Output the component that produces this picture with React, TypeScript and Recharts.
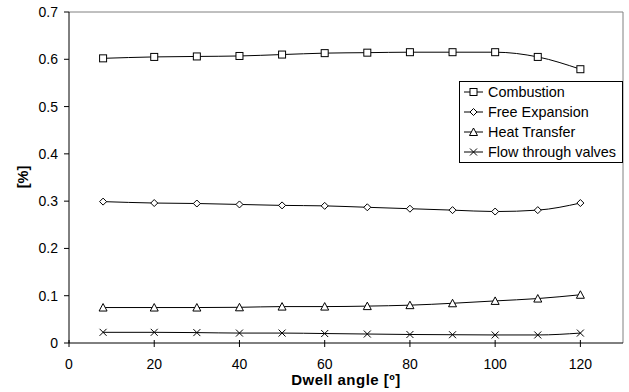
import React from "react";
import {
  LineChart,
  Line,
  XAxis,
  YAxis,
  Legend,
  ReferenceLine,
  Label,
} from "recharts";

const dwellAngles = [8, 20, 30, 40, 50, 60, 70, 80, 90, 100, 110, 120];
const combustion = [0.602, 0.605, 0.606, 0.607, 0.61, 0.613, 0.614, 0.615, 0.615, 0.615, 0.605, 0.579];
const freeExpansion = [0.299, 0.296, 0.295, 0.293, 0.291, 0.29, 0.287, 0.284, 0.281, 0.278, 0.281, 0.296];
const heatTransfer = [0.075, 0.075, 0.075, 0.0755, 0.077, 0.077, 0.078, 0.08, 0.084, 0.089, 0.094, 0.102];
const flowThroughValves = [0.0226, 0.0226, 0.022, 0.021, 0.021, 0.02, 0.019, 0.018, 0.0175, 0.017, 0.017, 0.021];
const xTicks = [0, 20, 40, 60, 80, 100, 120];
const yTicks = [0, 0.1, 0.2, 0.3, 0.4, 0.5, 0.6, 0.7];

const data = dwellAngles.map((angle, i) => ({
  angle,
  combustion: combustion[i],
  freeExpansion: freeExpansion[i],
  heatTransfer: heatTransfer[i],
  flow: flowThroughValves[i],
}));

const FONT = "'Liberation Sans', Arial, sans-serif";

type Marker = "square" | "diamond" | "triangle" | "cross";

const MarkerShape = ({ cx, cy, kind }: { cx: number; cy: number; kind: Marker }) => {
  const s = 3.5;
  if (kind === "square")
    return <rect x={cx - s} y={cy - s} width={s * 2} height={s * 2} fill="#fff" stroke="#000" strokeWidth={1} />;
  if (kind === "diamond")
    return (
      <polygon
        points={`${cx},${cy - s} ${cx + s},${cy} ${cx},${cy + s} ${cx - s},${cy}`}
        fill="#fff"
        stroke="#000"
        strokeWidth={1}
      />
    );
  if (kind === "triangle")
    return (
      <polygon
        points={`${cx},${cy - s - 0.5} ${cx + s + 0.5},${cy + s} ${cx - s - 0.5},${cy + s}`}
        fill="#fff"
        stroke="#000"
        strokeWidth={1}
      />
    );
  return (
    <path
      d={`M${cx - s},${cy - s}L${cx + s},${cy + s}M${cx - s},${cy + s}L${cx + s},${cy - s}`}
      stroke="#000"
      strokeWidth={1}
      fill="none"
    />
  );
};

const series: { key: string; name: string; marker: Marker }[] = [
  { key: "combustion", name: "Combustion", marker: "square" },
  { key: "freeExpansion", name: "Free Expansion", marker: "diamond" },
  { key: "heatTransfer", name: "Heat Transfer", marker: "triangle" },
  { key: "flow", name: "Flow through valves", marker: "cross" },
];

const LegendBox = () => (
  <div
    style={{
      boxSizing: "border-box",
      width: 164,
      height: 82,
      border: "1px solid #000",
      background: "#fff",
      padding: "0px 0px 0px 3px",
      fontFamily: FONT,
      fontSize: 14.4,
      color: "#000",
    }}
  >
    {series.map((s) => (
      <div key={s.key} style={{ display: "flex", alignItems: "center", height: 20, whiteSpace: "nowrap" }}>
        <svg width={22} height={12} style={{ marginRight: 3, flexShrink: 0 }}>
          <line x1={1} y1={6} x2={20} y2={6} stroke="#000" strokeWidth={1} />
          <MarkerShape cx={10.5} cy={6} kind={s.marker} />
        </svg>
        <span>{s.name}</span>
      </div>
    ))}
  </div>
);

const XTick = (props: any) => {
  const { x, payload } = props;
  const axisY = 343;
  return (
    <g>
      <line x1={x} y1={axisY - 3} x2={x} y2={axisY + 4} stroke="#000" />
      <text x={x} y={axisY + 26} textAnchor="middle" fontFamily={FONT} fontSize={14} fill="#000">
        {payload.value}
      </text>
    </g>
  );
};

const XTitle = () => (
  <text
    x={346}
    y={384.5}
    textAnchor="middle"
    fontFamily={FONT}
    fontSize={15}
    fontWeight="bold"
    letterSpacing={0.5}
    fill="#000"
  >
    Dwell angle [º]
  </text>
);

const YTitle = () => (
  <text
    x={28}
    y={177}
    transform="rotate(-90 28 177)"
    textAnchor="middle"
    fontFamily={FONT}
    fontSize={14.5}
    fontWeight="bold"
    fill="#000"
  >
    [%]
  </text>
);

export default function App() {
  return (
    <div style={{ position: "fixed", left: 0, top: 0, background: "#fff" }}>
      <LineChart width={629} height={392} data={data} margin={{ top: 12, right: 6, left: 9, bottom: 19 }}>
        <ReferenceLine y={0.7} stroke="#808080" strokeWidth={1} ifOverflow="visible" />
        <ReferenceLine x={130} stroke="#808080" strokeWidth={1} ifOverflow="visible" />
        <XAxis
          dataKey="angle"
          type="number"
          domain={[0, 130]}
          ticks={xTicks}
          interval={0}
          axisLine={{ stroke: "#000" }}
          tickLine={false}
          tick={<XTick />}
          height={30}
        >
          <Label content={<XTitle />} />
        </XAxis>
        <YAxis
          domain={[0, 0.7]}
          ticks={yTicks}
          interval={0}
          width={60}
          axisLine={{ stroke: "#000" }}
          tickLine={{ stroke: "#000" }}
          tickSize={5}
          tickMargin={6}
          tick={{ fontFamily: FONT, fontSize: 14, fill: "#000" }}
        >
          <Label content={<YTitle />} />
        </YAxis>
        <Legend
          content={<LegendBox />}
          layout="horizontal"
          verticalAlign="middle"
          align="center"
          wrapperStyle={{ top: 81, left: 459, width: 164, height: 82 }}
        />
        {series.map((s) => (
          <Line
            key={s.key}
            type="monotone"
            dataKey={s.key}
            name={s.name}
            stroke="#000"
            strokeWidth={1}
            isAnimationActive={false}
            dot={(p: any) => <MarkerShape key={`${s.key}-${p.index}`} cx={p.cx} cy={p.cy} kind={s.marker} />}
            activeDot={false}
          />
        ))}
      </LineChart>
    </div>
  );
}
